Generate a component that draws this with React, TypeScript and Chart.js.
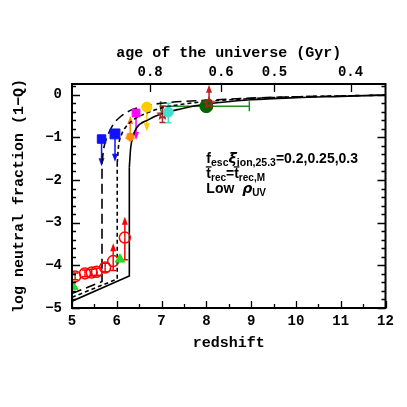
import React, { useEffect, useRef } from "react";
import { Chart, registerables } from "chart.js";
Chart.register(...registerables);

// ---- axes ----
const xTickValues = [5, 6, 7, 8, 9, 10, 11, 12];
const yTickValues = [-5, -4, -3, -2, -1, 0];
const ageTickLabels = ["0.8", "0.6", "0.5", "0.4"];
const ageTickZ = [6.745, 8.33, 9.52, 11.22];

// ---- model curves ----
const solidLowZ = [5.0, 6.28, 6.28];
const solidLowY = [-4.84, -4.25, -1.7];
const solidUpZ = [6.28, 6.31, 6.36, 6.44, 6.7, 7.0, 7.4, 8.0, 9.0, 10.0, 11.0, 12.0];
const solidUpY = [-1.7, -1.25, -0.98, -0.78, -0.59, -0.45, -0.34, -0.22, -0.12, -0.07, -0.04, -0.01];

const shortLowZ = [5.0, 6.01, 6.01];
const shortLowY = [-4.75, -4.32, -1.6];
const shortUpZ = [6.01, 6.04, 6.1, 6.2, 6.37, 6.67, 7.0, 7.5, 8.0, 9.0, 10.0, 11.0, 12.0];
const shortUpY = [-1.6, -1.2, -0.95, -0.76, -0.59, -0.43, -0.31, -0.22, -0.16, -0.09, -0.05, -0.03, -0.01];

const longLowZ = [5.0, 5.67, 5.67];
const longLowY = [-4.66, -4.38, -1.6];
const longUpZ = [5.67, 5.71, 5.8, 5.92, 6.1, 6.35, 6.7, 7.2, 8.0, 9.0, 10.0, 11.0, 12.0];
const longUpY = [-1.6, -1.25, -0.95, -0.7, -0.5, -0.35, -0.25, -0.18, -0.13, -0.08, -0.05, -0.03, -0.01];

// ---- observations ----
const redCircleZ = [5.07, 5.29, 5.44, 5.55, 5.74, 5.92, 6.18];
const redCircleY = [-4.26, -4.19, -4.17, -4.15, -4.05, -3.9, -3.35];
const redCircleErrLo = [0.08, 0.08, 0.08, 0.08, 0.1, 0.22, 0.52];
const redCircleErrHi = [0.08, 0.08, 0.08, 0.08, 0.1, null, null];
const redCircleArrowTo = [null, null, null, null, null, -3.48, -2.86];

const greenTriZ = [5.03, 6.07];
const greenTriY = [-4.5, -3.86];

const blueSqZ = [5.66, 5.96];
const blueSqY = [-1.04, -0.92];
const blueSqArrowTo = [-1.68, -1.57];
const blueSqSize = [6, 7];

const orangeZ = [6.3];
const orangeY = [-0.99];
const orangeArrowTo = [-0.5];

const magentaZ = [6.43];
const magentaY = [-0.43];
const magentaArrowTo = [-1.06];

const yellowZ = [6.67];
const yellowY = [-0.29];
const yellowArrowTo = [-0.86];

const brownStarZ = [7.02];
const brownStarY = [-0.47];
const brownStarErrLo = [0.18];
const brownStarErrHi = [0.2];

const cyanZ = [7.15];
const cyanY = [-0.41];
const cyanErrLo = [0.25];
const cyanErrHi = [0.21];

const dkGreenZ = [8.0];
const dkGreenY = [-0.27];
const dkGreenXLo = [6.98];
const dkGreenXHi = [8.96];

const redStarZ = [8.06];
const redStarY = [-0.2];
const redStarArrowTo = [0.23];

const AXIS_FONT = "'Liberation Mono', 'DejaVu Sans Mono', monospace";
const NOTE_FONT = "'Liberation Sans', Arial, sans-serif";
const GREEK_FONT = "'DejaVu Sans', sans-serif";

function pts(xs: number[], ys: number[]) {
  return xs.map((x, i) => ({ x, y: ys[i] }));
}

function makeStar(stroke: string, fill: string | null, r: number) {
  const c = document.createElement("canvas");
  const s = Math.ceil(r * 2 + 4);
  c.width = s;
  c.height = s;
  const g = c.getContext("2d")!;
  g.beginPath();
  for (let k = 0; k < 10; k++) {
    const rad = k % 2 === 0 ? r : r * 0.45;
    const a = -Math.PI / 2 + (k * Math.PI) / 5;
    const px = s / 2 + rad * Math.cos(a);
    const py = s / 2 + rad * Math.sin(a);
    if (k === 0) g.moveTo(px, py);
    else g.lineTo(px, py);
  }
  g.closePath();
  if (fill) {
    g.fillStyle = fill;
    g.fill();
  }
  g.strokeStyle = stroke;
  g.lineWidth = 1.6;
  g.stroke();
  return c;
}

function makePentagon(color: string, r: number) {
  const c = document.createElement("canvas");
  const s = Math.ceil(r * 2 + 2);
  c.width = s;
  c.height = s;
  const g = c.getContext("2d")!;
  g.beginPath();
  for (let k = 0; k < 5; k++) {
    const a = Math.PI / 2 + (k * 2 * Math.PI) / 5;
    const px = s / 2 + r * Math.cos(a);
    const py = s / 2 + r * Math.sin(a);
    if (k === 0) g.moveTo(px, py);
    else g.lineTo(px, py);
  }
  g.closePath();
  g.fillStyle = color;
  g.fill();
  return c;
}

const errorPlugin = {
  id: "errorBars",
  beforeDatasetsDraw(chart: any) {
    const { ctx, scales } = chart;
    const xs = scales.x;
    const ys = scales.y;
    ctx.save();
    chart.data.datasets.forEach((ds: any) => {
      if (!ds.errLo && !ds.errHi && !ds.arrowTo && !ds.xLo) return;
      const col = ds.errColor || ds.borderColor;
      ctx.strokeStyle = col;
      ctx.fillStyle = col;
      ctx.lineWidth = 1.5;
      ds.data.forEach((p: any, i: number) => {
        const px = xs.getPixelForValue(p.x);
        const py = ys.getPixelForValue(p.y);
        const cap = 3;
        const vbar = (to: number, withCap: boolean) => {
          const ty = ys.getPixelForValue(to);
          ctx.beginPath();
          ctx.moveTo(px, py);
          ctx.lineTo(px, ty);
          if (withCap) {
            ctx.moveTo(px - cap, ty);
            ctx.lineTo(px + cap, ty);
          }
          ctx.stroke();
        };
        if (ds.errLo && ds.errLo[i] != null) vbar(p.y - ds.errLo[i], true);
        if (ds.errHi && ds.errHi[i] != null) vbar(p.y + ds.errHi[i], true);
        if (ds.xLo && ds.xLo[i] != null) {
          const lx = xs.getPixelForValue(ds.xLo[i]);
          const hx = xs.getPixelForValue(ds.xHi[i]);
          ctx.beginPath();
          ctx.moveTo(lx, py);
          ctx.lineTo(hx, py);
          ctx.moveTo(lx, py - 5);
          ctx.lineTo(lx, py + 5);
          ctx.moveTo(hx, py - 5);
          ctx.lineTo(hx, py + 5);
          ctx.stroke();
        }
        if (ds.arrowTo && ds.arrowTo[i] != null) {
          const ty = ys.getPixelForValue(ds.arrowTo[i]);
          const dir = ty < py ? -1 : 1;
          ctx.beginPath();
          ctx.moveTo(px, py);
          ctx.lineTo(px, ty - dir * 6);
          ctx.stroke();
          ctx.beginPath();
          ctx.moveTo(px, ty);
          ctx.lineTo(px - 3, ty - dir * 8);
          ctx.lineTo(px + 3, ty - dir * 8);
          ctx.closePath();
          ctx.fill();
        }
      });
    });
    ctx.restore();
  },
};

const framePlugin = {
  id: "frame",
  afterDatasetsDraw(chart: any) {
    const { ctx, chartArea, scales } = chart;
    const { left, right, top, bottom } = chartArea;
    const xs = scales.x;
    const ys = scales.y;
    ctx.save();
    ctx.strokeStyle = "#000";
    ctx.lineWidth = 1.3;
    ctx.beginPath();
    for (let k = 0; k <= 26; k++) {
      const v = -5 + k * 0.2;
      const py = Math.round(ys.getPixelForValue(v)) + 0.5;
      const major = k % 5 === 0;
      const L = major ? 8 : 4;
      ctx.moveTo(left, py);
      ctx.lineTo(left + L, py);
      ctx.moveTo(right, py);
      ctx.lineTo(right - L, py);
    }
    for (let k = 0; k <= 14; k++) {
      const v = 5 + k * 0.5;
      const px = Math.round(xs.getPixelForValue(v)) + 0.5;
      const L = k % 2 === 0 ? 7 : 4;
      ctx.moveTo(px, bottom);
      ctx.lineTo(px, bottom - L);
    }
    ageTickZ.forEach((z) => {
      const px = Math.round(xs.getPixelForValue(z)) + 0.5;
      ctx.moveTo(px, top);
      ctx.lineTo(px, top + 8);
    });
    ctx.stroke();
    ctx.lineWidth = 2;
    ctx.strokeRect(left, top, right - left, bottom - top);
    ctx.restore();
  },
  afterDraw(chart: any) {
    const { ctx, scales } = chart;
    const xs = scales.x;
    const ys = scales.y;
    ctx.save();
    ctx.fillStyle = "#000";
    ctx.strokeStyle = "#000";
    ctx.textBaseline = "alphabetic";
    const x0 = xs.getPixelForValue(8.0);
    let cx = x0;
    let by = ys.getPixelForValue(-1.6);
    const seg = (t: string, size: number, dy: number, bar = false, fam = NOTE_FONT, style = "") => {
      ctx.font = `${style} bold ${size}px ${fam}`;
      ctx.fillText(t, cx, by + dy);
      const w = ctx.measureText(t).width;
      if (bar) {
        ctx.lineWidth = 1.3;
        ctx.beginPath();
        ctx.moveTo(cx - 0.5, by - 11);
        ctx.lineTo(cx + w + 0.5, by - 11);
        ctx.stroke();
      }
      cx += w;
    };
    seg("f", 14, 0);
    seg("esc", 10.5, 3);
    seg("ξ", 14, 0, false, GREEK_FONT, "italic");
    seg("ion,25.3", 10.5, 3);
    seg("=0.2,0.25,0.3", 14, 0);
    cx = x0;
    by += 15;
    seg("t", 14, 0, true);
    seg("rec", 10, 3);
    seg("=", 14, 0);
    seg("t", 14, 0, true);
    seg("rec,M", 10, 3);
    cx = x0;
    by += 15;
    seg("Low  ", 14, 0);
    seg("ρ", 14, 0, false, GREEK_FONT, "italic");
    seg("UV", 10, 3);
    ctx.restore();
  },
};

export default function App() {
  const ref = useRef<HTMLCanvasElement>(null);
  useEffect(() => {
    const lineBase = {
      showLine: true,
      pointRadius: 0,
      borderColor: "#000",
      borderWidth: 1.6,
      fill: false,
    };
    const mk = (label: string, xs: number[], ys: number[], extra: any) => ({
      label,
      data: pts(xs, ys),
      ...extra,
    });
    const axisFont = { family: AXIS_FONT, size: 15, weight: "bold" as const };
    const tickFont = { family: AXIS_FONT, size: 14, weight: "bold" as const };
    const chart = new Chart(ref.current!, {
      type: "scatter",
      data: {
        datasets: [
          mk("redstar", redStarZ, redStarY, {
            pointStyle: makeStar("#b22222", null, 5),
            pointRadius: 5,
            borderColor: "#c02020",
            arrowTo: redStarArrowTo,
          }),
          mk("dkgreen", dkGreenZ, dkGreenY, {
            pointStyle: "circle",
            pointRadius: 6.5,
            backgroundColor: "#006400",
            borderColor: "#006400",
            errColor: "#228b22",
            xLo: dkGreenXLo,
            xHi: dkGreenXHi,
          }),
          mk("cyan", cyanZ, cyanY, {
            pointStyle: "circle",
            pointRadius: 5,
            backgroundColor: "#40e0d0",
            borderColor: "#40e0d0",
            errLo: cyanErrLo,
            errHi: cyanErrHi,
          }),
          mk("brownstar", brownStarZ, brownStarY, {
            pointStyle: makeStar("#a52a2a", null, 4.5),
            pointRadius: 5,
            borderColor: "#a52a2a",
            errLo: brownStarErrLo,
            errHi: brownStarErrHi,
          }),
          mk("yellow", yellowZ, yellowY, {
            pointStyle: "circle",
            pointRadius: 5,
            backgroundColor: "#ffcc00",
            borderColor: "#ffcc00",
            arrowTo: yellowArrowTo,
          }),
          mk("magenta", magentaZ, magentaY, {
            pointStyle: "rect",
            pointRadius: 5.5,
            backgroundColor: "#ff00ff",
            borderColor: "#ff00ff",
            arrowTo: magentaArrowTo,
          }),
          mk("orange", orangeZ, orangeY, {
            pointStyle: makePentagon("#ff8c00", 5),
            pointRadius: 5,
            borderColor: "#ff8c00",
            arrowTo: orangeArrowTo,
          }),
          mk("blue", blueSqZ, blueSqY, {
            pointStyle: "rect",
            pointRadius: blueSqSize,
            backgroundColor: "#1010ff",
            borderColor: "#1010ff",
            arrowTo: blueSqArrowTo,
          }),
          mk("greentri", greenTriZ, greenTriY, {
            pointStyle: "triangle",
            pointRadius: 5.5,
            backgroundColor: "#22dd22",
            borderColor: "#22dd22",
          }),
          mk("redcircle", redCircleZ, redCircleY, {
            pointStyle: "circle",
            pointRadius: 5.5,
            backgroundColor: "rgba(0,0,0,0)",
            borderColor: "#ff0000",
            borderWidth: 1.5,
            errLo: redCircleErrLo,
            errHi: redCircleErrHi,
            arrowTo: redCircleArrowTo,
          }),
          mk("solidLow", solidLowZ, solidLowY, { ...lineBase }),
          mk("solidUp", solidUpZ, solidUpY, { ...lineBase, cubicInterpolationMode: "monotone" }),
          mk("shortLow", shortLowZ, shortLowY, { ...lineBase, borderDash: [4, 3] }),
          mk("shortUp", shortUpZ, shortUpY, { ...lineBase, borderDash: [4, 3], cubicInterpolationMode: "monotone" }),
          mk("longLow", longLowZ, longLowY, { ...lineBase, borderDash: [10, 5] }),
          mk("longUp", longUpZ, longUpY, { ...lineBase, borderDash: [10, 5], cubicInterpolationMode: "monotone" }),
        ],
      },
      options: {
        responsive: false,
        animation: false,
        layout: { padding: { left: 0, top: 0, bottom: 0, right: 21.5 } },
        plugins: { legend: { display: false }, tooltip: { enabled: false } },
        scales: {
          x: {
            type: "linear",
            position: "bottom",
            min: 5,
            max: 12,
            afterBuildTicks: (s: any) => {
              s.ticks = xTickValues.map((v) => ({ value: v }));
            },
            afterFit: (s: any) => {
              s.height = 99;
            },
            grid: { display: false, drawTicks: false },
            border: { display: false },
            ticks: { color: "#000", font: tickFont, padding: 5, maxRotation: 0, autoSkip: false },
            title: {
              display: true,
              text: "redshift",
              color: "#000",
              font: axisFont,
              padding: { top: 0, bottom: 55 },
            },
          },
          xTop: {
            type: "linear",
            position: "top",
            min: 5,
            max: 12,
            afterBuildTicks: (s: any) => {
              s.ticks = ageTickZ.map((v) => ({ value: v }));
            },
            afterFit: (s: any) => {
              s.height = 84;
            },
            grid: { display: false, drawTicks: false },
            border: { display: false },
            ticks: {
              color: "#000",
              font: tickFont,
              padding: 3,
              maxRotation: 0,
              autoSkip: false,
              callback: (_v: any, i: number) => ageTickLabels[i],
            },
            title: {
              display: true,
              text: "age of the universe (Gyr)",
              color: "#000",
              font: axisFont,
              padding: { top: 44, bottom: 0 },
            },
          },
          y: {
            type: "linear",
            min: -5,
            max: 0.25,
            afterBuildTicks: (s: any) => {
              s.ticks = yTickValues.map((v) => ({ value: v }));
            },
            afterFit: (s: any) => {
              s.width = 72;
            },
            grid: { display: false, drawTicks: false },
            border: { display: false },
            ticks: {
              color: "#000",
              font: tickFont,
              padding: 10,
              callback: (v: any) => (v < 0 ? "\u2212" + Math.abs(v) : String(v)),
            },
            title: {
              display: true,
              text: "log neutral fraction (1\u2212Q)",
              color: "#000",
              font: axisFont,
              padding: { top: 10, bottom: 0 },
            },
          },
        },
      } as any,
      plugins: [errorPlugin, framePlugin],
    });
    return () => chart.destroy();
  }, []);
  return (
    <div style={{ position: "absolute", left: 0, top: 0, width: 407, height: 407, background: "#fff" }}>
      <canvas ref={ref} width={407} height={407} />
    </div>
  );
}
